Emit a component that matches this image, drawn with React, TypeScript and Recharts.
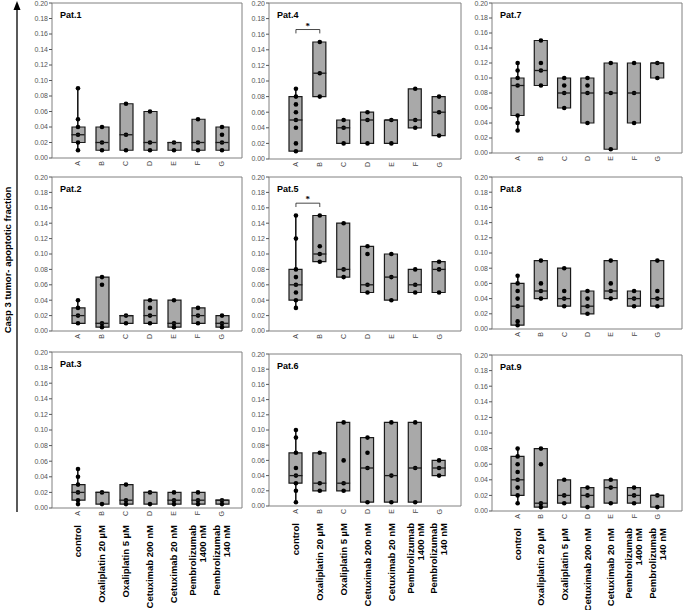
import React from "react";
import { Bar, ComposedChart, ReferenceLine, Scatter, XAxis, YAxis } from "recharts";

const categories = ["A", "B", "C", "D", "E", "F", "G"];
const treatments = [
  "control",
  "Oxaliplatin 20 µM",
  "Oxaliplatin 5 µM",
  "Cetuximab 200 nM",
  "Cetuximab 20 nM",
  "Pembrolizumab\n1400 nM",
  "Pembrolizumab\n140 nM",
];
const yTicks = [0, 0.02, 0.04, 0.06, 0.08, 0.1, 0.12, 0.14, 0.16, 0.18, 0.2];
const yLabel = "Casp 3 tumor- apoptotic fraction";

// dots per category (A..G), boxes per category as [lower, median, upper]
const pat1Points = [[0.01, 0.02, 0.03, 0.04, 0.05, 0.09], [0.01, 0.02, 0.04], [0.01, 0.03, 0.07], [0.01, 0.02, 0.06], [0.01, 0.02], [0.01, 0.02, 0.05], [0.01, 0.02, 0.03, 0.04]];
const pat1Boxes = [[0.02, 0.03, 0.04], [0.01, 0.02, 0.04], [0.01, 0.03, 0.07], [0.01, 0.02, 0.06], [0.01, 0.02, 0.02], [0.01, 0.02, 0.05], [0.01, 0.02, 0.04]];

const pat2Points = [[0.01, 0.02, 0.03, 0.04], [0.005, 0.01, 0.06, 0.07], [0.01, 0.02], [0.01, 0.02, 0.03, 0.04], [0.005, 0.01, 0.04], [0.01, 0.02, 0.03], [0.005, 0.01, 0.02]];
const pat2Boxes = [[0.01, 0.02, 0.03], [0.005, 0.01, 0.07], [0.01, 0.02, 0.02], [0.01, 0.02, 0.04], [0.005, 0.01, 0.04], [0.01, 0.02, 0.03], [0.005, 0.01, 0.02]];

const pat3Points = [[0.005, 0.01, 0.02, 0.03, 0.04, 0.05], [0.005, 0.02], [0.005, 0.01, 0.03], [0.005, 0.02], [0.005, 0.01, 0.02], [0.005, 0.01, 0.02], [0.005, 0.01]];
const pat3Boxes = [[0.01, 0.02, 0.03], [0.005, 0.02, 0.02], [0.005, 0.01, 0.03], [0.005, 0.02, 0.02], [0.005, 0.01, 0.02], [0.005, 0.01, 0.02], [0.005, 0.01, 0.01]];

const pat4Points = [[0.01, 0.02, 0.04, 0.05, 0.06, 0.07, 0.08, 0.09], [0.08, 0.11, 0.15], [0.02, 0.04, 0.05], [0.02, 0.05, 0.06], [0.02, 0.05], [0.04, 0.05, 0.09], [0.03, 0.06, 0.08]];
const pat4Boxes = [[0.01, 0.05, 0.08], [0.08, 0.11, 0.15], [0.02, 0.04, 0.05], [0.02, 0.05, 0.06], [0.02, 0.05, 0.05], [0.04, 0.05, 0.09], [0.03, 0.06, 0.08]];

const pat5Points = [[0.03, 0.04, 0.05, 0.06, 0.07, 0.08, 0.12, 0.15], [0.09, 0.1, 0.11, 0.15], [0.07, 0.08, 0.14], [0.05, 0.06, 0.1, 0.11], [0.04, 0.07, 0.1], [0.05, 0.06, 0.08], [0.05, 0.08, 0.09]];
const pat5Boxes = [[0.04, 0.06, 0.08], [0.09, 0.1, 0.15], [0.07, 0.08, 0.14], [0.05, 0.06, 0.11], [0.04, 0.07, 0.1], [0.05, 0.06, 0.08], [0.05, 0.08, 0.09]];

const pat6Points = [[0.005, 0.02, 0.03, 0.04, 0.05, 0.07, 0.09, 0.1], [0.02, 0.03, 0.07], [0.02, 0.03, 0.06, 0.11], [0.005, 0.05, 0.07, 0.09], [0.005, 0.04, 0.11], [0.005, 0.05, 0.11], [0.04, 0.05, 0.06]];
const pat6Boxes = [[0.03, 0.04, 0.07], [0.02, 0.03, 0.07], [0.02, 0.03, 0.11], [0.005, 0.05, 0.09], [0.005, 0.04, 0.11], [0.005, 0.05, 0.11], [0.04, 0.05, 0.06]];

const pat7Points = [[0.03, 0.04, 0.05, 0.09, 0.1, 0.11, 0.12], [0.09, 0.11, 0.12, 0.15], [0.06, 0.08, 0.09, 0.1], [0.04, 0.08, 0.09, 0.1], [0.005, 0.08, 0.12], [0.04, 0.08, 0.12], [0.1, 0.12]];
const pat7Boxes = [[0.05, 0.09, 0.1], [0.09, 0.11, 0.15], [0.06, 0.08, 0.1], [0.04, 0.08, 0.1], [0.005, 0.08, 0.12], [0.04, 0.08, 0.12], [0.1, 0.12, 0.12]];

const pat8Points = [[0.005, 0.01, 0.03, 0.04, 0.05, 0.06, 0.07], [0.04, 0.05, 0.06, 0.09], [0.03, 0.04, 0.05, 0.08], [0.02, 0.03, 0.04, 0.05], [0.04, 0.05, 0.06, 0.09], [0.03, 0.04, 0.05], [0.03, 0.04, 0.05, 0.09]];
const pat8Boxes = [[0.005, 0.03, 0.06], [0.04, 0.05, 0.09], [0.03, 0.04, 0.08], [0.02, 0.03, 0.05], [0.04, 0.05, 0.09], [0.03, 0.04, 0.05], [0.03, 0.04, 0.09]];

const pat9Points = [[0.01, 0.02, 0.03, 0.04, 0.05, 0.06, 0.07, 0.08], [0.005, 0.01, 0.06, 0.08], [0.01, 0.02, 0.04], [0.005, 0.02, 0.03], [0.01, 0.03, 0.04], [0.01, 0.02, 0.03], [0.005, 0.02]];
const pat9Boxes = [[0.02, 0.04, 0.07], [0.005, 0.01, 0.08], [0.01, 0.02, 0.04], [0.005, 0.02, 0.03], [0.01, 0.03, 0.04], [0.01, 0.02, 0.03], [0.005, 0.02, 0.02]];

// significance bracket between A and B (Pat.4, Pat.5)
const sigY = 0.166;
const sigDrop = 0.005;

const FONT = "'Liberation Sans', Arial, sans-serif";
const FRAME = "#808080";
const BOX_FILL = "#a9a9a9";
const INK = "#1a1a1a";

const panels = [
  { title: "Pat.1", points: pat1Points, boxes: pat1Boxes, x: 52, y: 3, w: 190, h: 155, pad: { left: 14, right: 8 } },
  { title: "Pat.2", points: pat2Points, boxes: pat2Boxes, x: 52, y: 177, w: 190, h: 154, pad: { left: 14, right: 8 } },
  { title: "Pat.3", points: pat3Points, boxes: pat3Boxes, x: 52, y: 352, w: 190, h: 156, pad: { left: 14, right: 8 }, bottom: true },
  { title: "Pat.4", points: pat4Points, boxes: pat4Boxes, x: 269, y: 3, w: 192, h: 156, pad: { left: 15, right: 10 }, sig: true },
  { title: "Pat.5", points: pat5Points, boxes: pat5Boxes, x: 269, y: 177, w: 192, h: 154, pad: { left: 15, right: 10 }, sig: true },
  { title: "Pat.6", points: pat6Points, boxes: pat6Boxes, x: 269, y: 354, w: 192, h: 152, pad: { left: 15, right: 10 }, bottom: true },
  { title: "Pat.7", points: pat7Points, boxes: pat7Boxes, x: 492, y: 3, w: 190, h: 150, pad: { left: 14, right: 13 } },
  { title: "Pat.8", points: pat8Points, boxes: pat8Boxes, x: 492, y: 177, w: 190, h: 152, pad: { left: 14, right: 13 } },
  { title: "Pat.9", points: pat9Points, boxes: pat9Boxes, x: 492, y: 355, w: 190, h: 156, pad: { left: 14, right: 13 }, bottom: true },
];

const LetterTick = ({ x, y, payload }: any) => (
  <text
    x={x}
    y={y}
    transform={`rotate(-90 ${x} ${y})`}
    textAnchor="end"
    dy="0.35em"
    fontSize={7}
    fill="#444"
    fontFamily={FONT}
  >
    {payload.value}
  </text>
);

const NameTick = ({ x, y, payload }: any) => {
  const lines = treatments[categories.indexOf(payload.value)].split("\n");
  return (
    <g>
      {lines.map((ln, k) => (
        <text
          key={k}
          x={x}
          y={y}
          transform={`rotate(-90 ${x} ${y})`}
          textAnchor="end"
          dy={`${(k - (lines.length - 1) / 2) * 1.05 + 0.35}em`}
          fontSize={9.5}
          fontWeight="bold"
          fill="#000"
          fontFamily={FONT}
        >
          {ln}
        </text>
      ))}
    </g>
  );
};

const Dot = (p: any) => <circle cx={p.cx} cy={p.cy} r={2.3} fill="#000" />;
const Median = (p: any) => (
  <line x1={p.cx - 6.5} x2={p.cx + 6.5} y1={p.cy} y2={p.cy} stroke={INK} strokeWidth={1.3} />
);

function Panel({ p }: { p: any }) {
  const rows = categories.map((cat, i) => ({
    cat,
    box: [p.boxes[i][0], p.boxes[i][2]],
    whisk: [Math.min(...p.points[i]), Math.max(...p.points[i])],
  }));
  const dots = categories.flatMap((cat, i) => p.points[i].map((v: number) => ({ cat, v })));
  const medians = categories.map((cat, i) => ({ cat, v: p.boxes[i][1] }));
  const namesH = p.bottom ? 115 : 0;
  const W = p.w + 33;
  const H = 3 + p.h + 16 + namesH;

  return (
    <div style={{ position: "absolute", left: p.x - 30, top: p.y - 3 }}>
      <ComposedChart width={W} height={H} data={rows} margin={{ top: 2, right: 2, bottom: 0, left: 0 }}>
        <XAxis
          dataKey="cat"
          allowDuplicatedCategory={false}
          padding={p.pad}
          height={16}
          interval={0}
          tick={LetterTick}
          tickLine={false}
          tickSize={0}
          tickMargin={3}
          axisLine={{ stroke: FRAME }}
        />
        <XAxis
          xAxisId="w"
          dataKey="cat"
          padding={p.pad}
          hide={!p.bottom}
          height={namesH}
          interval={0}
          tick={NameTick}
          tickLine={false}
          tickSize={0}
          tickMargin={1}
          axisLine={false}
        />
        <XAxis xAxisId="top" orientation="top" dataKey="cat" height={1} tick={false} tickLine={false} axisLine={{ stroke: FRAME }} />
        <YAxis
          domain={[0, 0.2]}
          ticks={yTicks}
          allowDataOverflow
          width={30}
          tickFormatter={(v: number) => v.toFixed(2)}
          tick={{ fontSize: 7, fill: "#555", fontFamily: FONT }}
          tickSize={3}
          tickMargin={1}
          tickLine={{ stroke: "#555" }}
          axisLine={{ stroke: FRAME }}
        />
        <YAxis yAxisId="r" orientation="right" domain={[0, 0.2]} width={1} tick={false} tickLine={false} axisLine={{ stroke: FRAME }} />
        <Bar xAxisId="w" dataKey="whisk" barSize={1.6} fill={INK} isAnimationActive={false} />
        <Bar dataKey="box" barSize={13} fill={BOX_FILL} stroke={INK} strokeWidth={1.2} isAnimationActive={false} />
        <Scatter data={dots} dataKey="v" shape={Dot} isAnimationActive={false} />
        <Scatter data={medians} dataKey="v" shape={Median} isAnimationActive={false} />
        {p.sig && (
          <ReferenceLine
            segment={[{ x: "A", y: sigY }, { x: "B", y: sigY }]}
            stroke={INK}
            strokeWidth={0.8}
            label={{ value: "*", position: "top", fontSize: 9, fontWeight: "bold", fill: "#000", offset: 1 }}
          />
        )}
        {p.sig && (
          <ReferenceLine segment={[{ x: "A", y: sigY }, { x: "A", y: sigY - sigDrop }]} stroke={INK} strokeWidth={0.8} />
        )}
        {p.sig && (
          <ReferenceLine segment={[{ x: "B", y: sigY }, { x: "B", y: sigY - sigDrop }]} stroke={INK} strokeWidth={0.8} />
        )}
      </ComposedChart>
      <div
        style={{
          position: "absolute",
          left: 38,
          top: 10,
          fontFamily: FONT,
          fontWeight: "bold",
          fontSize: 9,
          color: "#000",
        }}
      >
        {p.title}
      </div>
    </div>
  );
}

export default function App() {
  return (
    <div
      style={{
        position: "absolute",
        left: 0,
        top: 0,
        width: 685,
        height: 610,
        overflow: "hidden",
        background: "#fff",
      }}
    >
      <svg width={30} height={610} style={{ position: "absolute", left: 0, top: 0 }}>
        <line x1={17} y1={512} x2={17} y2={8} stroke="#000" strokeWidth={1.3} />
        <polygon points="17,1 13.5,10 20.5,10" fill="#000" />
        <text
          x={8}
          y={260}
          transform="rotate(-90 8 260)"
          textAnchor="middle"
          dy="0.35em"
          fontSize={9.5}
          fontWeight="bold"
          fontFamily={FONT}
          fill="#000"
        >
          {yLabel}
        </text>
      </svg>
      {panels.map((p) => (
        <Panel key={p.title} p={p} />
      ))}
    </div>
  );
}
